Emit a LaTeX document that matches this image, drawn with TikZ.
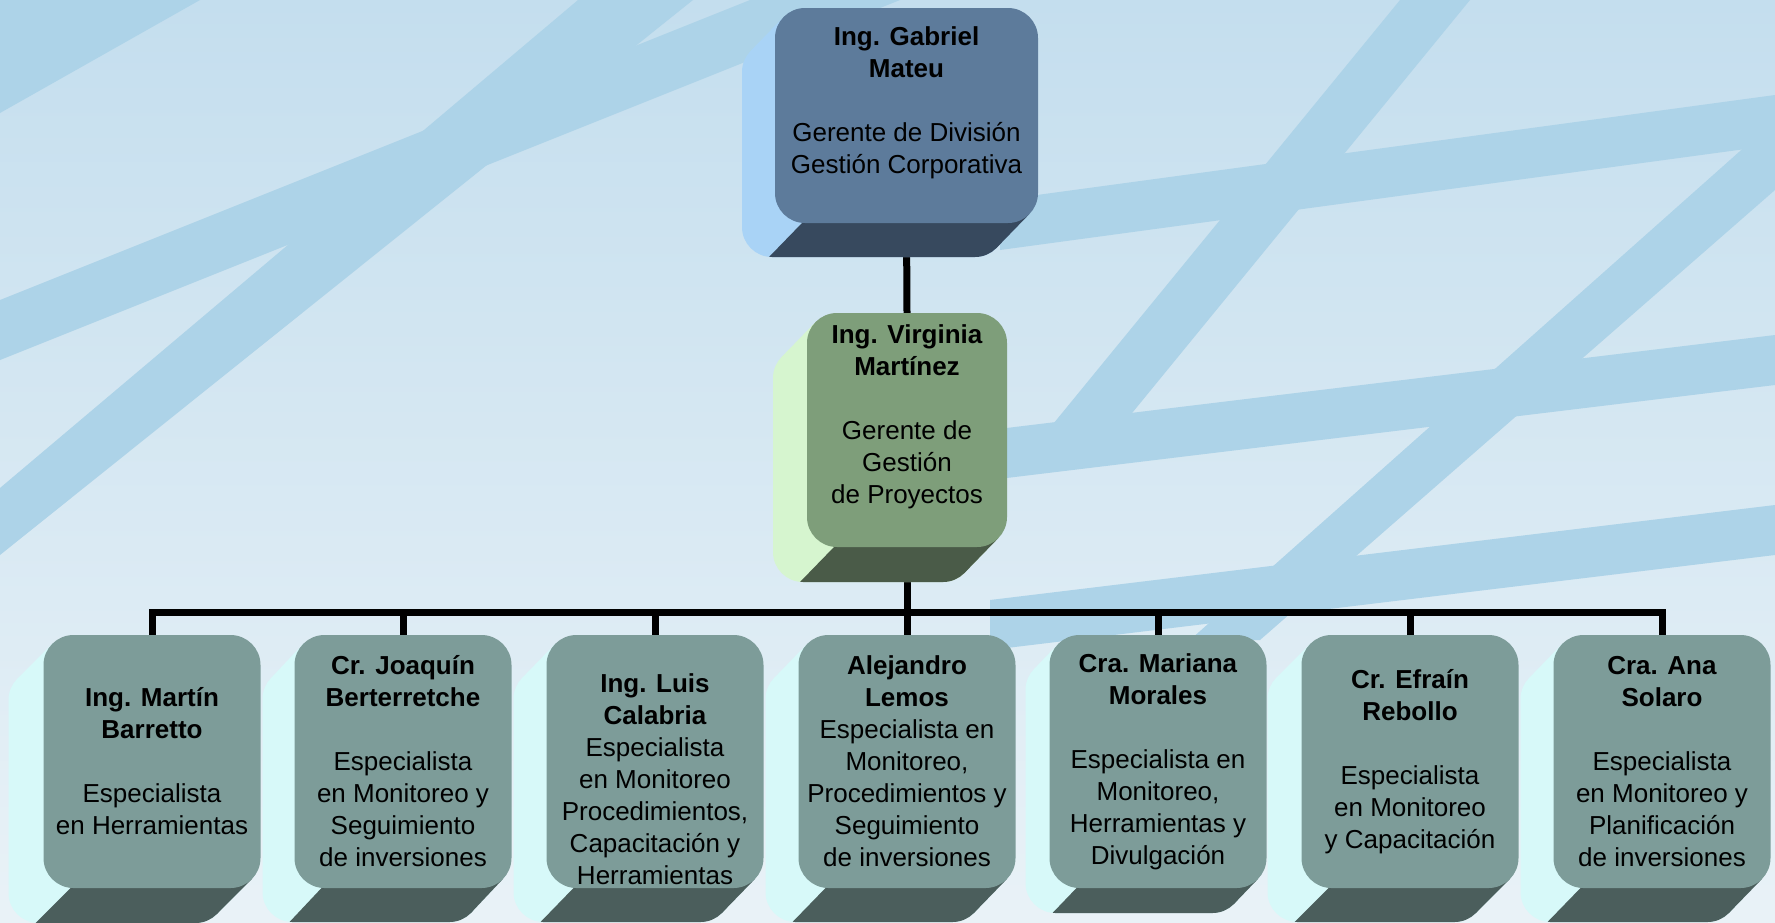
\documentclass[tikz,border=0pt]{standalone}
\usepackage{fontspec}
\setmainfont{Liberation Sans}
\usetikzlibrary{calc}
\definecolor{bgtop}{HTML}{C4DEEE}
\definecolor{bgbot}{HTML}{E9F2F7}
\definecolor{band}{HTML}{ADD3E8}
\definecolor{topfront}{HTML}{5D7B9B}
\definecolor{topside}{HTML}{A9D3F6}
\definecolor{topbot}{HTML}{37495E}
\definecolor{midfront}{HTML}{7E9E7A}
\definecolor{midside}{HTML}{D6F5CF}
\definecolor{midbot}{HTML}{4A5B48}
\definecolor{botfront}{HTML}{7D9C99}
\definecolor{botside}{HTML}{D7F9F9}
\definecolor{botbot}{HTML}{4B5E5C}
\pgfdeclarelayer{bg}
\pgfdeclarelayer{lines}
\pgfsetlayers{bg,lines,main}
% extruded body behind a front face: x1 y1 x2 y2 dx dy side bottom
\newcommand\solidbody[8]{%
  \fill[#7,rounded corners=30pt] ({#1-#5},{#2+#6}) rectangle ({#3-#5},{#4+#6});
  \fill[#7] ({#1+8.8},{#2+8.8}) -- ({#1+8.8-#5},{#2+8.8+#6}) -- ({#3-8.8-#5},{#4-8.8+#6}) -- ({#3-8.8},{#4-8.8}) -- cycle;
  \begin{scope}
    \clip[rounded corners=30pt] ({#1-#5},{#2+#6}) rectangle ({#3-#5},{#4+#6});
    \fill[#8] ({#1+27+#5},{#4-#6}) -- ({#3+60},{#4-#6}) -- ({#3+60},{#4+3*#6}) -- ({#1+27-3*#5},{#4+3*#6}) -- cycle;
  \end{scope}
  \begin{scope}
    \clip ({#1+8.8},{#2+8.8}) -- ({#1+8.8-#5},{#2+8.8+#6}) -- ({#3-8.8-#5},{#4-8.8+#6}) -- ({#3-8.8},{#4-8.8}) -- cycle;
    \fill[#8] ({#1+27+#5},{#4-#6}) -- ({#3+60},{#4-#6}) -- ({#3+60},{#4+3*#6}) -- ({#1+27-3*#5},{#4+3*#6}) -- cycle;
  \end{scope}
}
\begin{document}
\begin{tikzpicture}[x=1pt,y=-1pt,
  box/.style={rounded corners=30pt, inner sep=0pt, align=center,
    font=\fontsize{26}{32}\selectfont, text=black},
  topbox/.style={box, fill=topfront, minimum width=263pt, minimum height=215pt},
  midbox/.style={box, fill=midfront, minimum width=200pt, minimum height=234pt},
  botbox/.style={box, fill=botfront, minimum width=217pt, minimum height=253pt},
  conn/.style={line width=7pt, draw=black}]
\useasboundingbox (0,0) rectangle (1775,922);
\begin{pgfonlayer}{bg}
  \shade[top color=bgtop, bottom color=bgbot] (0,0) rectangle (1775,922);
  \fill[band] (0,0) -- (200,0) -- (0,113) -- cycle;
  \fill[band] (0,300) -- (750,0) -- (900,0) -- (0,360) -- cycle;
  \fill[band] (0,488) -- (578,0) -- (693,0) -- (0,555) -- cycle;
  \fill[band] (1000,200) -- (1775,95) -- (1775,145) -- (1000,250) -- cycle;
  \fill[band] (990,430) -- (1775,335) -- (1775,385) -- (990,480) -- cycle;
  \fill[band] (990,600) -- (1775,505) -- (1775,555) -- (990,650) -- cycle;
  \fill[band] (1040,440) -- (1400,0) -- (1470,0) -- (1110,440) -- cycle;
  \fill[band] (1190,640) -- (1775,120) -- (1775,190) -- (1260,640) -- cycle;
\end{pgfonlayer}

% boxes
\solidbody{775}{8}{1038}{223}{33}{34}{topside}{topbot}
\node[topbox] (gm) at (906.5,115.5) {\textbf{Ing. Gabriel}\\\textbf{Mateu}\\[32pt]Gerente de División\\Gestión Corporativa\rule[-30pt]{0pt}{30pt}};

\solidbody{807}{313}{1007}{547}{34}{35}{midside}{midbot}
\node[midbox] (vm) at (907,430) {\textbf{Ing. Virginia}\\\textbf{Martínez}\\[32pt]Gerente de\\Gestión\\de Proyectos\rule[-31pt]{0pt}{31pt}};

\solidbody{43.5}{635}{260.5}{888}{35}{35}{botside}{botbot}
\node[botbox] (b1) at (152,761.5) {\textbf{Ing. Martín}\\\textbf{Barretto}\\[32pt]Especialista\\en Herramientas};

\solidbody{294.5}{635}{511.5}{888}{32}{34}{botside}{botbot}
\node[botbox] (b2) at (403,761.5) {\textbf{Cr. Joaquín}\\\textbf{Berterretche}\\[32pt]Especialista\\en Monitoreo y\\Seguimiento\\de inversiones};

\solidbody{546.5}{635}{763.5}{888}{33}{34}{botside}{botbot}
\node[botbox] (b3) at (655,761.5) {\rule{0pt}{55pt}\textbf{Ing. Luis}\\\textbf{Calabria}\\Especialista\\en Monitoreo\\Procedimientos,\\Capacitación y\\Herramientas};

\solidbody{798.5}{635}{1015.5}{888}{33}{34}{botside}{botbot}
\node[botbox] (b4) at (907,761.5) {\textbf{Alejandro}\\\textbf{Lemos}\\Especialista en\\Monitoreo,\\Procedimientos y\\Seguimiento\\de inversiones};

\solidbody{1049.5}{635}{1266.5}{888}{24}{25}{botside}{botbot}
\node[botbox] (b5) at (1158,761.5) {\textbf{Cra. Mariana}\\\textbf{Morales}\\[32pt]Especialista en\\Monitoreo,\\Herramientas y\\Divulgación};

\solidbody{1301.5}{635}{1518.5}{888}{34}{34}{botside}{botbot}
\node[botbox] (b6) at (1410,761.5) {\textbf{Cr. Efraín}\\\textbf{Rebollo}\\[32pt]Especialista\\en Monitoreo\\y Capacitación};

\solidbody{1553.5}{635}{1770.5}{888}{33}{34}{botside}{botbot}
\node[botbox] (b7) at (1662,761.5) {\textbf{Cra. Ana}\\\textbf{Solaro}\\[32pt]Especialista\\en Monitoreo y\\Planificación\\de inversiones};

% connectors
\begin{pgfonlayer}{lines}
  \coordinate (bus) at (907,612);
  \draw[conn] (gm.south) -- (vm.north);
  \draw[conn] (vm.south) -- (bus);
  \draw[conn] (b1.north) |- (bus) -| (b7.north);
  \foreach \n in {b2,b3,b4,b5,b6}
    \draw[conn] (\n.north) -- (\n.north |- bus);
\end{pgfonlayer}
\end{tikzpicture}
\end{document}
